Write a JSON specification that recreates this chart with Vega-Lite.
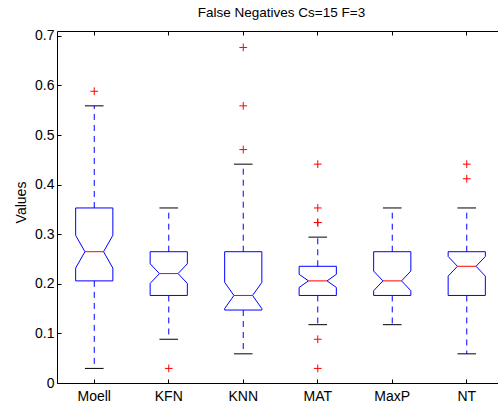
{
  "$schema": "https://vega.github.io/schema/vega-lite/v6.json",
  "width": 441,
  "height": 352,
  "autosize": "none",
  "padding": {"left": 57, "top": 31, "right": 0, "bottom": 21},
  "background": "white",
  "title": {"text": "False Negatives Cs=15 F=3", "fontSize": 13.5, "fontWeight": "normal", "color": "#000", "font": "Liberation Sans", "offset": 9, "dx": 4},
  "config": {
    "view": {"stroke": null},
    "font": "Liberation Sans",
    "axis": {"domainColor": "#000", "tickColor": "#000", "labelColor": "#000", "titleColor": "#000", "labelFontSize": 14, "titleFontSize": 14, "titleFontWeight": "normal", "grid": false, "domainWidth": 1, "tickWidth": 1}
  },
  "datasets": {
    "boxes": [
      {"name": "Moell", "lo": 0.0294, "q1": 0.2059, "nlo": 0.2317, "med": 0.2647, "nhi": 0.2977, "q3": 0.3529, "hi": 0.5588},
      {"name": "KFN", "lo": 0.0882, "q1": 0.1765, "nlo": 0.2008, "med": 0.2206, "nhi": 0.2404, "q3": 0.2647, "hi": 0.3529},
      {"name": "KNN", "lo": 0.0588, "q1": 0.1471, "nlo": 0.1500, "med": 0.1765, "nhi": 0.2029, "q3": 0.2647, "hi": 0.4412},
      {"name": "MAT", "lo": 0.1176, "q1": 0.1765, "nlo": 0.1927, "med": 0.2059, "nhi": 0.2191, "q3": 0.2353, "hi": 0.2941},
      {"name": "MaxP", "lo": 0.1176, "q1": 0.1765, "nlo": 0.1861, "med": 0.2059, "nhi": 0.2257, "q3": 0.2647, "hi": 0.3529},
      {"name": "NT", "lo": 0.0588, "q1": 0.1765, "nlo": 0.2155, "med": 0.2353, "nhi": 0.2551, "q3": 0.2647, "hi": 0.3529}
    ],
    "outliers": [
      {"name": "Moell", "v": 0.5882},
      {"name": "KFN", "v": 0.0294},
      {"name": "KNN", "v": 0.4706},
      {"name": "KNN", "v": 0.5588},
      {"name": "KNN", "v": 0.6765},
      {"name": "MAT", "v": 0.4412},
      {"name": "MAT", "v": 0.3529},
      {"name": "MAT", "v": 0.3235},
      {"name": "MAT", "v": 0.3235},
      {"name": "MAT", "v": 0.0882},
      {"name": "MAT", "v": 0.0294},
      {"name": "NT", "v": 0.4412},
      {"name": "NT", "v": 0.4118}
    ]
  },
  "resolve": {"axis": {"x": "independent"}},
  "layer": [
    {
      "data": {"name": "boxes"},
      "mark": {"type": "rule", "color": "#0000ff", "xOffset": -18.6, "x2Offset": 18.6},
      "encoding": {
        "x": {"field": "name", "type": "nominal", "bandPosition": 0.5, "scale": {"type": "band", "domain": ["Moell", "KFN", "KNN", "MAT", "MaxP", "NT"], "range": [0, 447], "paddingInner": 0, "paddingOuter": 0},
          "axis": {"orient": "bottom", "title": null, "tickSize": -4, "labelPadding": 10, "labelAngle": 0, "domainColor": "#000"}},
        "x2": {"field": "name", "bandPosition": 0.5},
        "y": {"field": "q3", "type": "quantitative", "title": "Values", "scale": {"domain": [0, 0.7097], "nice": false, "zero": true},
          "axis": {"orient": "left", "values": [0, 0.1, 0.2, 0.3, 0.4, 0.5, 0.6, 0.7], "format": ".1~f", "tickSize": -4, "labelPadding": 7, "titlePadding": 6, "titleY": 171}}
      }
    },
    {
      "data": {"name": "boxes"},
      "mark": {"type": "rule", "color": "#0000ff", "xOffset": -18.6, "x2Offset": 18.6},
      "encoding": {
        "x": {"field": "name", "type": "nominal", "bandPosition": 0.5, "axis": {"orient": "top", "title": null, "labels": false, "tickSize": -4, "domainColor": "#000"}},
        "x2": {"field": "name", "bandPosition": 0.5},
        "y": {"field": "q1", "type": "quantitative", "title": "Values"}
      }
    },
    {
      "data": {"name": "boxes"},
      "mark": {"type": "rule", "color": "#0000ff", "xOffset": -18.6},
      "encoding": {
        "x": {"field": "name", "type": "nominal", "bandPosition": 0.5, "axis": null},
        "y": {"field": "q3", "type": "quantitative", "title": "Values"},
        "y2": {"field": "nhi"}
      }
    },
    {
      "data": {"name": "boxes"},
      "mark": {"type": "rule", "color": "#0000ff", "xOffset": 18.6},
      "encoding": {
        "x": {"field": "name", "type": "nominal", "bandPosition": 0.5, "axis": null},
        "y": {"field": "q3", "type": "quantitative", "title": "Values"},
        "y2": {"field": "nhi"}
      }
    },
    {
      "data": {"name": "boxes"},
      "mark": {"type": "rule", "color": "#0000ff", "xOffset": -18.6},
      "encoding": {
        "x": {"field": "name", "type": "nominal", "bandPosition": 0.5, "axis": null},
        "y": {"field": "nlo", "type": "quantitative", "title": "Values"},
        "y2": {"field": "q1"}
      }
    },
    {
      "data": {"name": "boxes"},
      "mark": {"type": "rule", "color": "#0000ff", "xOffset": 18.6},
      "encoding": {
        "x": {"field": "name", "type": "nominal", "bandPosition": 0.5, "axis": null},
        "y": {"field": "nlo", "type": "quantitative", "title": "Values"},
        "y2": {"field": "q1"}
      }
    },
    {
      "data": {"name": "boxes"},
      "mark": {"type": "rule", "color": "#0000ff", "xOffset": -18.6, "x2Offset": -9.3},
      "encoding": {
        "x": {"field": "name", "type": "nominal", "bandPosition": 0.5, "axis": null},
        "x2": {"field": "name", "bandPosition": 0.5},
        "y": {"field": "nhi", "type": "quantitative", "title": "Values"},
        "y2": {"field": "med"}
      }
    },
    {
      "data": {"name": "boxes"},
      "mark": {"type": "rule", "color": "#0000ff", "xOffset": 18.6, "x2Offset": 9.3},
      "encoding": {
        "x": {"field": "name", "type": "nominal", "bandPosition": 0.5, "axis": null},
        "x2": {"field": "name", "bandPosition": 0.5},
        "y": {"field": "nhi", "type": "quantitative", "title": "Values"},
        "y2": {"field": "med"}
      }
    },
    {
      "data": {"name": "boxes"},
      "mark": {"type": "rule", "color": "#0000ff", "xOffset": -9.3, "x2Offset": -18.6},
      "encoding": {
        "x": {"field": "name", "type": "nominal", "bandPosition": 0.5, "axis": null},
        "x2": {"field": "name", "bandPosition": 0.5},
        "y": {"field": "med", "type": "quantitative", "title": "Values"},
        "y2": {"field": "nlo"}
      }
    },
    {
      "data": {"name": "boxes"},
      "mark": {"type": "rule", "color": "#0000ff", "xOffset": 9.3, "x2Offset": 18.6},
      "encoding": {
        "x": {"field": "name", "type": "nominal", "bandPosition": 0.5, "axis": null},
        "x2": {"field": "name", "bandPosition": 0.5},
        "y": {"field": "med", "type": "quantitative", "title": "Values"},
        "y2": {"field": "nlo"}
      }
    },
    {
      "data": {"name": "boxes"},
      "mark": {"type": "rule", "color": "#0000ff", "strokeDash": [6, 5]},
      "encoding": {
        "x": {"field": "name", "type": "nominal", "bandPosition": 0.5, "axis": null},
        "y": {"field": "q3", "type": "quantitative", "title": "Values"},
        "y2": {"field": "hi"}
      }
    },
    {
      "data": {"name": "boxes"},
      "mark": {"type": "rule", "color": "#0000ff", "strokeDash": [6, 5]},
      "encoding": {
        "x": {"field": "name", "type": "nominal", "bandPosition": 0.5, "axis": null},
        "y": {"field": "q1", "type": "quantitative", "title": "Values"},
        "y2": {"field": "lo"}
      }
    },
    {
      "data": {"name": "boxes"},
      "mark": {"type": "rule", "color": "#ff0000", "xOffset": -9.3, "x2Offset": 9.3},
      "encoding": {
        "x": {"field": "name", "type": "nominal", "bandPosition": 0.5, "axis": null},
        "x2": {"field": "name", "bandPosition": 0.5},
        "y": {"field": "med", "type": "quantitative", "title": "Values"}
      }
    },
    {
      "data": {"name": "boxes"},
      "mark": {"type": "rule", "color": "#000000", "xOffset": -9.3, "x2Offset": 9.3},
      "encoding": {
        "x": {"field": "name", "type": "nominal", "bandPosition": 0.5, "axis": null},
        "x2": {"field": "name", "bandPosition": 0.5},
        "y": {"field": "hi", "type": "quantitative", "title": "Values"}
      }
    },
    {
      "data": {"name": "boxes"},
      "mark": {"type": "rule", "color": "#000000", "xOffset": -9.3, "x2Offset": 9.3},
      "encoding": {
        "x": {"field": "name", "type": "nominal", "bandPosition": 0.5, "axis": null},
        "x2": {"field": "name", "bandPosition": 0.5},
        "y": {"field": "lo", "type": "quantitative", "title": "Values"}
      }
    },
    {
      "data": {"name": "outliers"},
      "mark": {"type": "point", "shape": "M-1,0L1,0M0,-1L0,1", "size": 60, "filled": false, "stroke": "#ff0000", "strokeWidth": 1, "opacity": 1},
      "encoding": {
        "x": {"field": "name", "type": "nominal", "bandPosition": 0.5, "axis": null},
        "y": {"field": "v", "type": "quantitative", "title": "Values"}
      }
    }
  ]
}
